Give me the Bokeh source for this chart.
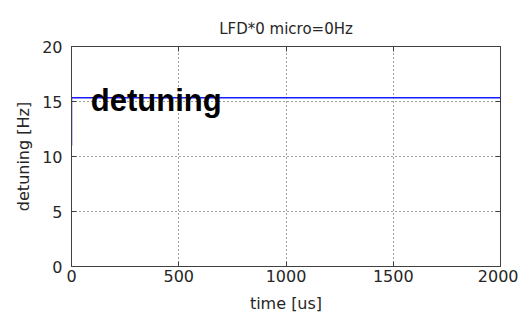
from bokeh.plotting import figure
from bokeh.models import LinearAxis, Label, FixedTicker
from bokeh.embed import file_html
from bokeh.resources import INLINE

# data
time_us = [0, 0, 2000]
detuning_hz = [11.0, 15.35, 15.35]
x_ticks = [0, 500, 1000, 1500, 2000]
y_ticks = [0, 5, 10, 15, 20]

FONT = "DejaVu Sans"
TXT = "#262626"

p = figure(width=518, height=322, x_range=(0, 2000), y_range=(0, 20),
           output_backend="svg", toolbar_location=None,
           min_border_left=71, min_border_right=18,
           min_border_top=46, min_border_bottom=56,
           title="LFD*0 micro=0Hz")
p.title.align = "center"
p.title.text_font = FONT
p.title.text_font_size = "15px"
p.title.text_font_style = "normal"
p.title.text_color = TXT
p.title.standoff = 17

p.outline_line_color = "#404040"
p.outline_line_width = 1
p.background_fill_color = "white"
p.border_fill_color = "white"

p.line(time_us, detuning_hz, line_color="#1a1aff", line_width=1.5)

for ax in (p.xaxis[0], p.yaxis[0]):
    ax.axis_line_color = "#404040"
    ax.major_tick_line_color = "#404040"
    ax.major_tick_in = 5
    ax.major_tick_out = 0
    ax.minor_tick_line_color = None
    ax.major_label_text_font = FONT
    ax.major_label_text_font_size = "16px"
    ax.major_label_text_color = TXT
    ax.axis_label_text_font = FONT
    ax.axis_label_text_font_size = "16px"
    ax.axis_label_text_font_style = "normal"
    ax.axis_label_text_color = TXT

p.xaxis.ticker = FixedTicker(ticks=x_ticks)
p.yaxis.ticker = FixedTicker(ticks=y_ticks)
p.xaxis.axis_label = "time [us]"
p.yaxis.axis_label = "detuning [Hz]"
p.xaxis.major_label_standoff = 3
p.yaxis.major_label_standoff = 9
p.xaxis.axis_label_standoff = 9
p.yaxis.axis_label_standoff = 6

for loc in ("right", "above"):
    ticks = x_ticks if loc == "above" else y_ticks
    ax = LinearAxis(ticker=FixedTicker(ticks=ticks),
                    major_label_overrides={t: "" for t in ticks})
    ax.axis_line_color = None
    ax.major_tick_line_color = "#404040"
    ax.major_tick_in = 5
    ax.major_tick_out = 0
    ax.minor_tick_line_color = None
    ax.major_label_standoff = 0
    p.add_layout(ax, loc)

p.xgrid.ticker = FixedTicker(ticks=[500, 1000, 1500])
p.ygrid.ticker = FixedTicker(ticks=[5, 10, 15])
for g in (p.xgrid[0], p.ygrid[0]):
    g.grid_line_color = "#000000"
    g.grid_line_dash = "1 3"
    g.grid_line_width = 1
    g.grid_line_alpha = 0.75

label_x, label_y = 90, 15.1
p.add_layout(Label(x=label_x, y=label_y, text="detuning",
                   text_font="Liberation Sans", text_font_style="bold",
                   text_font_size="31px", text_color="black",
                   text_baseline="alphabetic", text_align="left"))

open("out.html", "w").write(file_html(p, INLINE))
